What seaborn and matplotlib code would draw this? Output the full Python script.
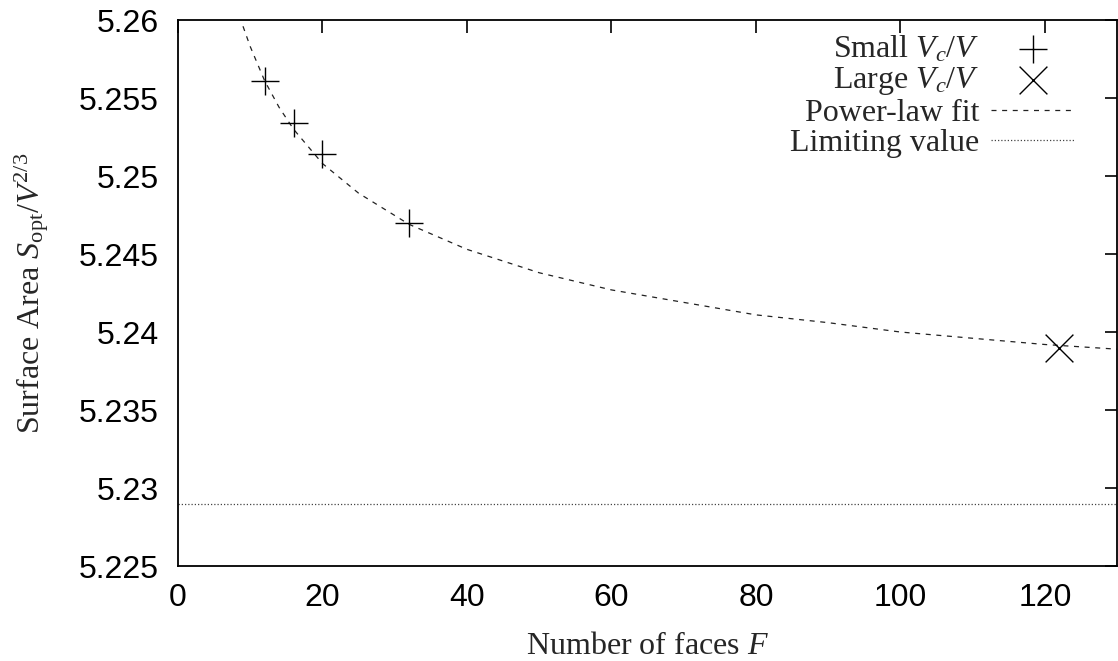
import numpy as np
import pandas as pd
import matplotlib
matplotlib.use("Agg")
import matplotlib.pyplot as plt
import seaborn as sns

# values
small_faces = [12, 16, 20, 32]
small_area = [5.2561, 5.2534, 5.2514, 5.2470]
large_faces = [122]
large_area = [5.2390]
fit_faces = [9, 10, 12, 14, 16, 20, 25, 32, 40, 50, 60, 70, 80, 90, 100, 110, 120, 130]
fit_area = [5.2596, 5.2583, 5.2561, 5.2544, 5.2530, 5.2508, 5.2489, 5.2469, 5.2453,
            5.2438, 5.2427, 5.2419, 5.2411, 5.2406, 5.2400, 5.2396, 5.2392, 5.2389]
limit_faces = [0, 130]
limit_area = [5.229, 5.229]
x_ticks = [0, 20, 40, 60, 80, 100, 120]
y_ticks = [5.225, 5.23, 5.235, 5.24, 5.245, 5.25, 5.255, 5.26]
y_tick_labels = ["5.225", "5.23", "5.235", "5.24", "5.245", "5.25", "5.255", "5.26"]

sns.set_style("white")
plt.rcParams['font.family'] = ['Liberation Sans', 'DejaVu Sans']
plt.rcParams['mathtext.fontset'] = 'custom'
plt.rcParams['mathtext.rm'] = 'Liberation Serif'
plt.rcParams['mathtext.it'] = 'Liberation Serif:italic'
plt.rcParams['mathtext.bf'] = 'Liberation Serif:bold'

fig = plt.figure(figsize=(11.18, 6.61), dpi=100)
ax = fig.add_axes([0.1592, 0.1437, 0.8400, 0.8260])

fit_df = pd.DataFrame({'F': fit_faces, 'S': fit_area})
lim_df = pd.DataFrame({'F': limit_faces, 'S': limit_area})

sns.lineplot(data=fit_df, x='F', y='S', ax=ax, color='#222222', linewidth=0.9,
             label='Power-law fit', sort=True)
ax.lines[-1].set_dashes((4, 4.5))
sns.lineplot(data=lim_df, x='F', y='S', ax=ax, color='#444444', linewidth=0.9,
             label='Limiting value')
ax.lines[-1].set_dashes((1, 1.6))

sns.scatterplot(x=small_faces, y=small_area, ax=ax, marker='+', s=400,
                color='black', linewidth=1.0, label='Small $V_c/V$', zorder=5)
sns.scatterplot(x=large_faces, y=large_area, ax=ax, marker='x', s=400,
                color='black', linewidth=1.0, label='Large $V_c/V$', zorder=5)

ax.set_xlim(0, 130)
ax.set_ylim(5.225, 5.26)
ax.set_xticks(x_ticks)
ax.set_yticks(y_ticks)
ax.set_yticklabels(y_tick_labels)

ax.tick_params(direction='in', length=9, width=1.2, top=True, right=True,
               labelsize=23, colors='black')
ax.tick_params(axis='x', pad=12)
ax.tick_params(axis='y', pad=14)
for sp in ax.spines.values():
    sp.set_linewidth(1.3)
    sp.set_color('black')

serif = ['Liberation Serif', 'DejaVu Serif']
ax.set_xlabel('Number of faces $F$', fontsize=23, family=serif, labelpad=14)
ax.set_ylabel('Surface Area $S_\\mathrm{opt}/V^{2/3}$', fontsize=23, family=serif, labelpad=20)

handles, labels = ax.get_legend_handles_labels()
order = [labels.index(l) for l in ['Small $V_c/V$', 'Large $V_c/V$', 'Power-law fit', 'Limiting value']]
leg = ax.legend([handles[i] for i in order], [labels[i] for i in order],
                loc='upper right', bbox_to_anchor=(0.985, 1.027), frameon=False,
                markerfirst=False, handlelength=2.6, handletextpad=0.37,
                labelspacing=0.03, prop={'family': serif, 'size': 23})

fig.savefig('out.png', dpi=100)
